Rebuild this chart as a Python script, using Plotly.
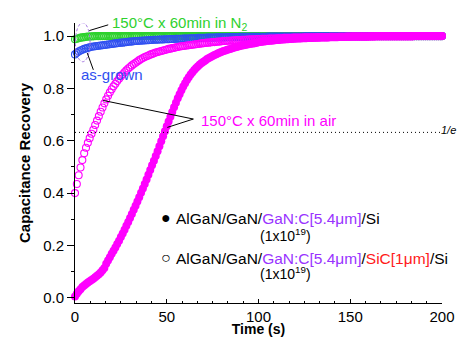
import plotly.graph_objects as go

# ---------------- data ----------------
time_s = list(range(0, 201))  # sampling grid, 1 s

# 150C x 60 min in air, AlGaN/GaN/GaN:C/SiC/Si (open circles)
air_sic = [
    0.400, 0.435, 0.468, 0.498, 0.526, 0.552, 0.573, 0.592, 0.610, 0.627,
    0.642, 0.660, 0.677, 0.694, 0.711, 0.727, 0.743, 0.758, 0.772, 0.785,
    0.797, 0.808, 0.818, 0.828, 0.837, 0.846, 0.854, 0.862, 0.869, 0.876,
    0.882, 0.888, 0.893, 0.898, 0.903, 0.908, 0.912, 0.916, 0.920, 0.923,
    0.926, 0.929, 0.932, 0.934, 0.937, 0.939, 0.941, 0.943, 0.945, 0.947,
    0.949, 0.951, 0.952, 0.954, 0.955, 0.957, 0.958, 0.960, 0.961, 0.962,
    0.963, 0.964, 0.965, 0.966, 0.967, 0.968, 0.969, 0.970, 0.971, 0.972,
    0.973, 0.974, 0.975, 0.975, 0.976, 0.977, 0.977, 0.978, 0.979, 0.979,
    0.980, 0.981, 0.981, 0.982, 0.982, 0.983, 0.983, 0.984, 0.984, 0.985,
    0.985, 0.986, 0.986, 0.986, 0.987, 0.987, 0.988, 0.988, 0.988, 0.989,
    0.989, 0.989, 0.990, 0.990, 0.990, 0.990, 0.991, 0.991, 0.991, 0.991,
    0.992, 0.992, 0.992, 0.992, 0.993, 0.993, 0.993, 0.993, 0.993, 0.994,
    0.994, 0.994, 0.994, 0.994, 0.994, 0.995, 0.995, 0.995, 0.995, 0.995,
    0.995, 0.995, 0.996, 0.996, 0.996, 0.996, 0.996, 0.996, 0.996, 0.997,
    0.997, 0.997, 0.997, 0.997, 0.997, 0.997, 0.997, 0.997, 0.998, 0.998,
    0.998, 0.998, 0.998, 0.998, 0.998, 0.998, 0.998, 0.998, 0.998, 0.998,
    0.998, 0.998, 0.998, 0.998, 0.999, 0.999, 0.999, 0.999, 0.999, 0.999,
    0.999, 0.999, 0.999, 0.999, 0.999, 0.999, 0.999, 0.999, 0.999, 0.999,
    0.999, 0.999, 0.999, 0.999, 0.999, 1.000, 1.000, 1.000, 1.000, 1.000,
    1.000, 1.000, 1.000, 1.000, 1.000, 1.000, 1.000, 1.000, 1.000, 1.000,
    1.000,
]

# 150C x 60 min in air, AlGaN/GaN/GaN:C/Si (filled circles)
air_si = [
    0.005, 0.015, 0.025, 0.033, 0.041, 0.047, 0.053, 0.058, 0.063, 0.068,
    0.073, 0.078, 0.084, 0.090, 0.097, 0.105, 0.114, 0.130, 0.142, 0.155,
    0.168, 0.180, 0.192, 0.205, 0.218, 0.232, 0.246, 0.260, 0.275, 0.290,
    0.305, 0.320, 0.336, 0.352, 0.368, 0.384, 0.401, 0.418, 0.435, 0.452,
    0.470, 0.488, 0.506, 0.524, 0.542, 0.560, 0.579, 0.598, 0.617, 0.636,
    0.655, 0.674, 0.692, 0.710, 0.728, 0.745, 0.762, 0.778, 0.793, 0.807,
    0.820, 0.832, 0.843, 0.853, 0.862, 0.870, 0.878, 0.885, 0.891, 0.897,
    0.902, 0.907, 0.912, 0.916, 0.920, 0.924, 0.928, 0.931, 0.934, 0.937,
    0.940, 0.943, 0.945, 0.948, 0.950, 0.952, 0.954, 0.956, 0.958, 0.960,
    0.962, 0.964, 0.965, 0.967, 0.968, 0.970, 0.971, 0.972, 0.973, 0.975,
    0.976, 0.977, 0.978, 0.979, 0.980, 0.981, 0.982, 0.982, 0.983, 0.984,
    0.985, 0.985, 0.986, 0.987, 0.987, 0.988, 0.988, 0.989, 0.989, 0.990,
    0.990, 0.991, 0.991, 0.991, 0.992, 0.992, 0.992, 0.993, 0.993, 0.993,
    0.994, 0.994, 0.994, 0.994, 0.995, 0.995, 0.995, 0.995, 0.995, 0.996,
    0.996, 0.996, 0.996, 0.996, 0.997, 0.997, 0.997, 0.997, 0.997, 0.997,
    0.997, 0.998, 0.998, 0.998, 0.998, 0.998, 0.998, 0.998, 0.998, 0.998,
    0.998, 0.999, 0.999, 0.999, 0.999, 0.999, 0.999, 0.999, 0.999, 0.999,
    0.999, 0.999, 0.999, 0.999, 0.999, 0.999, 0.999, 0.999, 0.999, 0.999,
    0.999, 0.999, 0.999, 0.999, 0.999, 1.000, 1.000, 1.000, 1.000, 1.000,
    1.000, 1.000, 1.000, 1.000, 1.000, 1.000, 1.000, 1.000, 1.000, 1.000,
    1.000,
]

# 150C x 60 min in N2
n2_anneal = [
    0.988, 0.990, 0.992, 0.994, 0.995, 0.996, 0.997, 0.998, 0.998, 0.999,
    0.999, 1.000, 1.000, 1.000, 1.000, 1.000, 1.000, 1.000, 1.000, 1.000,
    1.000, 1.000, 1.000, 1.000, 1.000, 1.000, 1.000, 1.000, 1.000, 1.000,
    1.000, 1.000, 1.000, 1.000, 1.000, 1.000, 1.000, 1.000, 1.000, 1.000,
    1.000, 1.000, 1.000, 1.000, 1.000, 1.000, 1.000, 1.000, 1.000, 1.000,
    1.000, 1.000, 1.000, 1.000, 1.000, 1.000, 1.000, 1.000, 1.000, 1.000,
    1.000, 1.000, 1.000, 1.000, 1.000, 1.000, 1.000, 1.000, 1.000, 1.000,
    1.000, 1.000, 1.000, 1.000, 1.000, 1.000, 1.000, 1.000, 1.000, 1.000,
    1.000, 1.000, 1.000, 1.000, 1.000, 1.000, 1.000, 1.000, 1.000, 1.000,
    1.000, 1.000, 1.000, 1.000, 1.000, 1.000, 1.000, 1.000, 1.000, 1.000,
    1.000, 1.000, 1.000, 1.000, 1.000, 1.000, 1.000, 1.000, 1.000, 1.000,
    1.000, 1.000, 1.000, 1.000, 1.000, 1.000, 1.000, 1.000, 1.000, 1.000,
    1.000, 1.000, 1.000, 1.000, 1.000, 1.000, 1.000, 1.000, 1.000, 1.000,
    1.000, 1.000, 1.000, 1.000, 1.000, 1.000, 1.000, 1.000, 1.000, 1.000,
    1.000, 1.000, 1.000, 1.000, 1.000, 1.000, 1.000, 1.000, 1.000, 1.000,
    1.000, 1.000, 1.000, 1.000, 1.000, 1.000, 1.000, 1.000, 1.000, 1.000,
    1.000, 1.000, 1.000, 1.000, 1.000, 1.000, 1.000, 1.000, 1.000, 1.000,
    1.000, 1.000, 1.000, 1.000, 1.000, 1.000, 1.000, 1.000, 1.000, 1.000,
    1.000, 1.000, 1.000, 1.000, 1.000, 1.000, 1.000, 1.000, 1.000, 1.000,
    1.000, 1.000, 1.000, 1.000, 1.000, 1.000, 1.000, 1.000, 1.000, 1.000,
    1.000,
]

# as-grown
as_grown = [
    0.930, 0.936, 0.941, 0.945, 0.948, 0.951, 0.953, 0.955, 0.957, 0.959,
    0.960, 0.961, 0.962, 0.963, 0.964, 0.965, 0.966, 0.967, 0.968, 0.969,
    0.970, 0.971, 0.972, 0.973, 0.974, 0.975, 0.975, 0.976, 0.977, 0.978,
    0.979, 0.979, 0.980, 0.981, 0.981, 0.982, 0.982, 0.983, 0.983, 0.984,
    0.984, 0.985, 0.985, 0.986, 0.986, 0.986, 0.987, 0.987, 0.987, 0.988,
    0.988, 0.988, 0.989, 0.989, 0.989, 0.990, 0.990, 0.990, 0.990, 0.991,
    0.991, 0.991, 0.991, 0.992, 0.992, 0.992, 0.992, 0.993, 0.993, 0.993,
    0.993, 0.993, 0.994, 0.994, 0.994, 0.994, 0.994, 0.995, 0.995, 0.995,
    0.995, 0.995, 0.995, 0.996, 0.996, 0.996, 0.996, 0.996, 0.996, 0.996,
    0.997, 0.997, 0.997, 0.997, 0.997, 0.997, 0.997, 0.997, 0.997, 0.997,
    0.997, 0.997, 0.997, 0.997, 0.997, 0.998, 0.998, 0.998, 0.998, 0.998,
    0.998, 0.998, 0.998, 0.998, 0.998, 0.998, 0.998, 0.998, 0.998, 0.998,
    0.998, 0.998, 0.998, 0.998, 0.998, 0.999, 0.999, 0.999, 0.999, 0.999,
    0.999, 0.999, 0.999, 0.999, 0.999, 0.999, 0.999, 0.999, 0.999, 0.999,
    0.999, 0.999, 0.999, 0.999, 0.999, 0.999, 0.999, 0.999, 0.999, 0.999,
    0.999, 0.999, 0.999, 0.999, 0.999, 0.999, 0.999, 0.999, 0.999, 0.999,
    1.000, 1.000, 1.000, 1.000, 1.000, 1.000, 1.000, 1.000, 1.000, 1.000,
    1.000, 1.000, 1.000, 1.000, 1.000, 1.000, 1.000, 1.000, 1.000, 1.000,
    1.000, 1.000, 1.000, 1.000, 1.000, 1.000, 1.000, 1.000, 1.000, 1.000,
    1.000, 1.000, 1.000, 1.000, 1.000, 1.000, 1.000, 1.000, 1.000, 1.000,
    1.000,
]

x_ticks = [0, 50, 100, 150, 200]
y_ticks = [0.0, 0.2, 0.4, 0.6, 0.8, 1.0]
inv_e = 0.632

# ---------------- styling ----------------
FONT = "Arial, 'Liberation Sans', sans-serif"
GREEN = "#2ed12e"
BLUE = "#3050f0"
MAGENTA = "#ff00ff"
PURPLE = "#9933ff"
RED = "#ff1a1a"

fig = go.Figure()

fig.add_trace(go.Scatter(x=time_s, y=n2_anneal, mode="markers", cliponaxis=False,
                         marker=dict(symbol="circle-open", size=7, color=GREEN, line=dict(width=1.1, color=GREEN))))
fig.add_trace(go.Scatter(x=time_s, y=as_grown, mode="markers", cliponaxis=False,
                         marker=dict(symbol="circle-open", size=7, color=BLUE, line=dict(width=1.1, color=BLUE))))
fig.add_trace(go.Scatter(x=time_s, y=air_si, mode="markers", cliponaxis=False,
                         marker=dict(symbol="circle", size=8, color=MAGENTA, line=dict(width=0))))
fig.add_trace(go.Scatter(x=time_s, y=air_sic, mode="markers", cliponaxis=False,
                         marker=dict(symbol="circle-open", size=7, color=MAGENTA, line=dict(width=1.1, color=MAGENTA))))

shapes = [
    dict(type="line", xref="x", yref="y", x0=0, x1=200, y0=inv_e, y1=inv_e,
         line=dict(color="black", width=1, dash="1px,3px")),
    dict(type="circle", xref="x", yref="y", x0=0.2, x1=8.2, y0=0.902, y1=1.051,
         line=dict(color="#a070e0", width=1, dash="3px,2px")),
    dict(type="line", xref="x", yref="y", x0=7.8, y0=1.021, x1=18.1, y1=1.043,
         line=dict(color="black", width=1)),
    dict(type="line", xref="x", yref="y", x0=6.7, y0=0.935, x1=10.0, y1=0.871,
         line=dict(color="black", width=1)),
    dict(type="line", xref="x", yref="y", x0=15.4, y0=0.754, x1=64.5, y1=0.683,
         line=dict(color="black", width=1)),
    dict(type="line", xref="x", yref="y", x0=50.3, y0=0.651, x1=64.5, y1=0.683,
         line=dict(color="black", width=1)),
]

ann = [
    dict(x=19.1, y=1.050, text="150°C x 60min in N<sub>2</sub>", font=dict(color=GREEN, size=15)),
    dict(x=2.2, y=0.852, text="as-grown", font=dict(color=BLUE, size=15)),
    dict(x=67.3, y=0.677, text="150°C x 60min in air", font=dict(color=MAGENTA, size=15)),
    dict(x=46.0, y=0.306, text="●", font=dict(color="black", size=16)),
    dict(x=53.9, y=0.304,
         text=f"AlGaN/GaN/<span style='color:{PURPLE}'>GaN:C[5.4μm]</span>/Si",
         font=dict(color="black", size=15.5)),
    dict(x=99.6, y=0.240, text="(1x10<sup>19</sup>)", font=dict(color="black", size=14)),
    dict(x=46.0, y=0.153, text="○", font=dict(color="black", size=16)),
    dict(x=53.9, y=0.151,
         text=f"AlGaN/GaN/<span style='color:{PURPLE}'>GaN:C[5.4μm]</span>/"
              f"<span style='color:{RED}'>SiC[1μm]</span>/Si",
         font=dict(color="black", size=15.5)),
    dict(x=99.6, y=0.094, text="(1x10<sup>19</sup>)", font=dict(color="black", size=14)),
]
for a in ann:
    a.update(xref="x", yref="y", xanchor="left", yanchor="middle", showarrow=False)
ann.append(dict(x=1.0, y=0.642, xref="paper", yref="y", xanchor="right", yanchor="middle",
                showarrow=False, text="<i>1/e</i>", font=dict(color="black", size=11),
                xshift=16))

# the page body adds an 8 px margin on every side; the figure is sized so the page never
# overflows the 466x345 window, and margins put the plot area where the reference has it
fig.update_layout(
    width=450, height=329,
    margin=dict(l=67, r=16, t=15, b=34),
    paper_bgcolor="white", plot_bgcolor="white",
    showlegend=False,
    font=dict(family=FONT, color="black"),
    shapes=shapes, annotations=ann,
    xaxis=dict(
        range=[0, 200], tickvals=x_ticks, ticks="inside", ticklen=4, tickwidth=1,
        tickcolor="black", showline=True, linecolor="black", linewidth=1,
        showgrid=False, zeroline=False, tickfont=dict(size=15), automargin=False,
        minor=dict(dtick=50 / 6, tick0=0, ticks="inside", ticklen=2, tickcolor="black", showgrid=False),
        title=dict(text="<b>Time (s)</b>", font=dict(size=14), standoff=3),
    ),
    yaxis=dict(
        range=[-0.02, 1.05], tickvals=y_ticks, tickformat=".1f", ticks="outside", ticklen=7,
        tickwidth=1, tickcolor="black", showline=True, linecolor="black", linewidth=1,
        showgrid=False, zeroline=False, tickfont=dict(size=15), automargin=False,
        minor=dict(dtick=0.1, tick0=0, ticks="outside", ticklen=3, tickcolor="black", showgrid=False),
        title=dict(text="<b>Capacitance Recovery</b>", font=dict(size=15), standoff=8),
    ),
)

fig.write_html("out.html")
